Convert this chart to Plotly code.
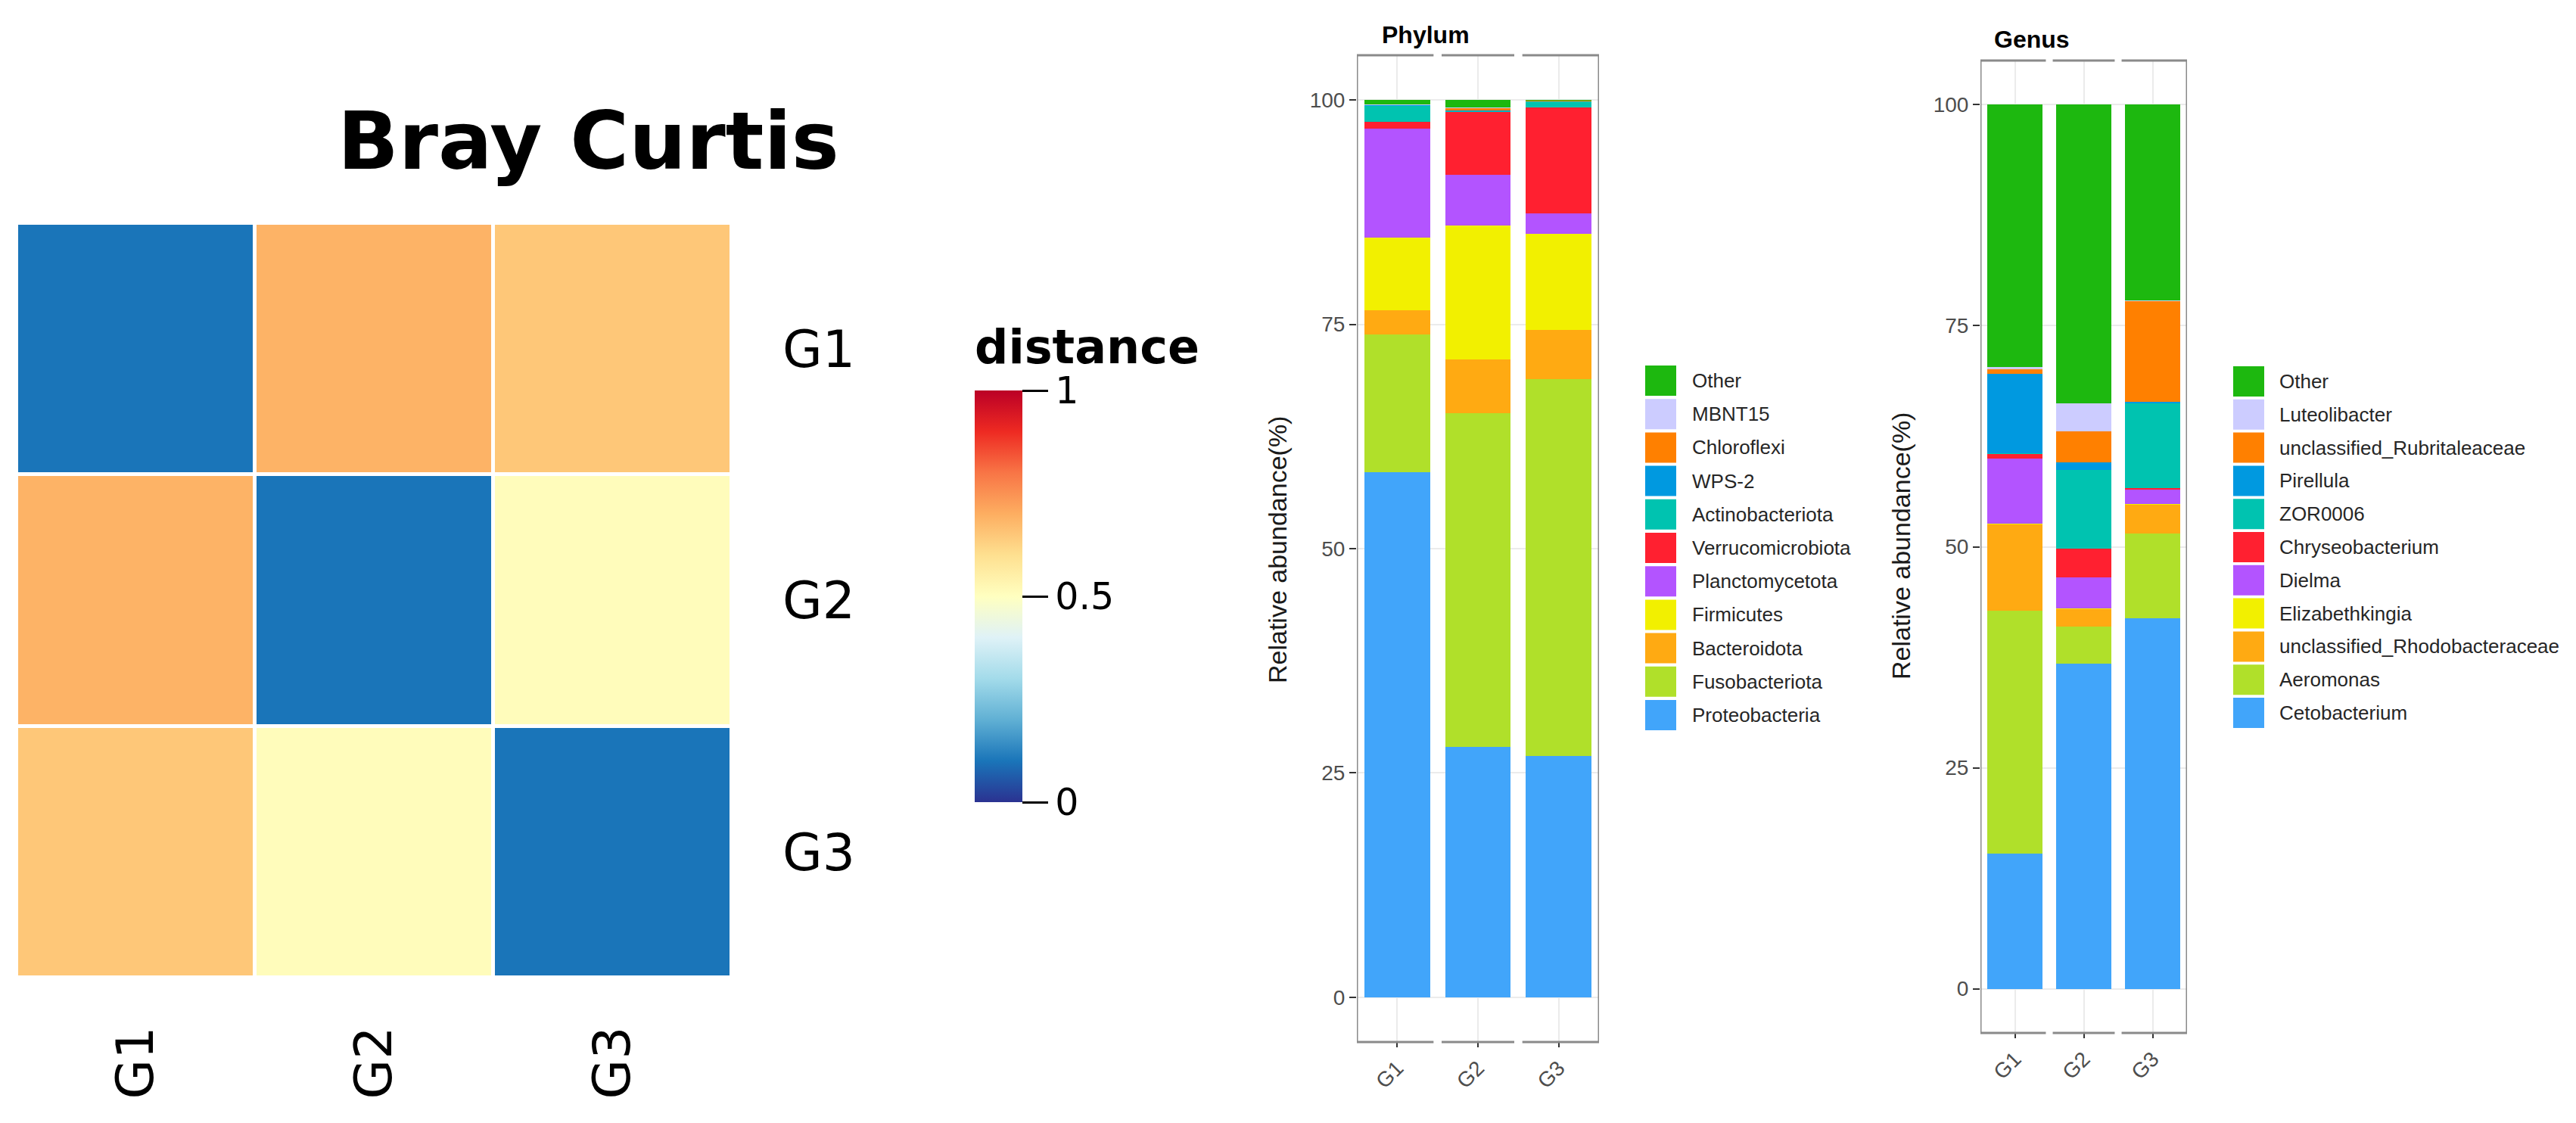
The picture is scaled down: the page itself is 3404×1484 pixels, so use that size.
import plotly.graph_objects as go

# page body adds an 8px margin, so the figure is drawn 8px smaller and shifted
OFF = 8
W, H = 3404 - OFF, 1484 - OFF

# ---- heatmap data (Bray Curtis distance) ----
groups = ["G1", "G2", "G3"]
dist = [
    [0.10, 0.69, 0.65],
    [0.69, 0.10, 0.51],
    [0.65, 0.51, 0.10],
]

# ---- phylum relative abundance (%) , bottom -> top ----
phylum_names = ["Proteobacteria", "Fusobacteriota", "Bacteroidota", "Firmicutes",
                "Planctomycetota", "Verrucomicrobiota", "Actinobacteriota", "WPS-2",
                "Chloroflexi", "MBNT15", "Other"]
phylum_G1 = [58.5, 15.4, 2.7, 8.1, 12.1, 0.8, 1.8, 0.05, 0.05, 0.05, 0.45]
phylum_G2 = [27.9, 37.2, 6.0, 14.9, 5.7, 7.0, 0.1, 0.05, 0.3, 0.05, 0.8]
phylum_G3 = [26.9, 42.0, 5.5, 10.7, 2.3, 11.8, 0.7, 0.02, 0.02, 0.02, 0.04]

# ---- genus relative abundance (%) , bottom -> top ----
genus_names = ["Cetobacterium", "Aeromonas", "unclassified_Rhodobacteraceae", "Elizabethkingia",
               "Dielma", "Chryseobacterium", "ZOR0006", "Pirellula",
               "unclassified_Rubritaleaceae", "Luteolibacter", "Other"]
genus_G1 = [15.3, 27.5, 9.8, 0.05, 7.3, 0.6, 0.05, 9.0, 0.5, 0.2, 29.7]
genus_G2 = [36.8, 4.2, 2.0, 0.05, 3.5, 3.2, 8.9, 0.9, 3.5, 3.2, 33.8]
genus_G3 = [41.9, 9.6, 3.3, 0.02, 1.7, 0.1, 9.6, 0.2, 11.4, 0.05, 22.2]

taxa_colors = ["#41a5fa", "#b0e02a", "#ffaa12", "#f2f000", "#b354ff", "#ff2030",
               "#00c3b0", "#0099e0", "#ff8000", "#ccccff", "#1db80f"]

dist_scale = [
    [0.0, "#2b3291"], [0.1, "#1a75b9"], [0.2, "#60b0d4"], [0.3, "#a3dbea"],
    [0.4, "#dff2f7"], [0.5, "#ffffc0"], [0.6, "#fee090"], [0.7, "#fdae61"],
    [0.8, "#f87546"], [0.9, "#ee2a22"], [1.0, "#bb0026"],
]

def px(v):
    return (v - OFF) / W

def py(v):
    return 1 - (v - OFF) / H

fig = go.Figure()

# heatmap
fig.add_trace(go.Heatmap(
    x=groups, y=groups, z=dist, zmin=0, zmax=1,
    colorscale=dist_scale, xgap=5, ygap=5,
    xaxis="x", yaxis="y",
    colorbar=dict(
        x=px(1288), xanchor="left", xpad=0, ypad=0,
        y=py(788), yanchor="middle", len=544, lenmode="pixels",
        thickness=63, outlinewidth=0,
        tickvals=[0, 0.5, 1], ticktext=["0", "0.5", "1"],
        ticks="outside", ticklen=34, tickwidth=3, tickcolor="black",
        tickfont=dict(family="DejaVu Sans", size=49, color="black"),
    ),
))

# stacked bars
phylum_vals = [phylum_G1, phylum_G2, phylum_G3]
for i, name in enumerate(phylum_names):
    fig.add_trace(go.Bar(
        x=groups, y=[v[i] for v in phylum_vals], name=name,
        marker=dict(color=taxa_colors[i], line=dict(width=0)),
        width=0.81, xaxis="x2", yaxis="y2", showlegend=False,
    ))

genus_vals = [genus_G1, genus_G2, genus_G3]
for i, name in enumerate(genus_names):
    fig.add_trace(go.Bar(
        x=groups, y=[v[i] for v in genus_vals], name=name,
        marker=dict(color=taxa_colors[i], line=dict(width=0)),
        width=0.81, xaxis="x3", yaxis="y3", showlegend=False,
    ))

bar_font = "Liberation Sans, Arial, sans-serif"
tick_font = dict(family=bar_font, size=28, color="#4d4d4d")

def bar_axes(dom_x, dom_y):
    xa = dict(domain=dom_x, range=[-0.5, 2.5], showgrid=True, gridcolor="#ebebeb",
              gridwidth=2, ticks="outside", ticklen=6, tickwidth=2, tickcolor="#333333",
              tickangle=-45, tickfont=tick_font, showline=False, zeroline=False,
              automargin=False, fixedrange=True)
    ya = dict(domain=dom_y, range=[-5, 105], tickvals=[0, 25, 50, 75, 100],
              showgrid=True, gridcolor="#ebebeb", gridwidth=2, ticks="outside",
              ticklen=9, tickwidth=2, tickcolor="#333333", tickfont=tick_font,
              showline=False, zeroline=False, automargin=False, fixedrange=True)
    return xa, ya

xa2, ya2 = bar_axes([px(1793), px(2113)], [py(1377), py(73)])
xa3, ya3 = bar_axes([px(2617), px(2890)], [py(1365), py(80)])
xa2["anchor"] = "y2"
ya2["anchor"] = "x2"
xa3["anchor"] = "y3"
ya3["anchor"] = "x3"

shapes = []
annotations = []

# facet borders: full left/right sides, top and bottom broken between facets
for ax in ["2", "3"]:
    line = dict(color="#8a8a8a", width=3)
    for xv in [-0.5, 2.5]:
        shapes.append(dict(type="line", xref="x" + ax, yref="y" + ax + " domain",
                           x0=xv, x1=xv, y0=0, y1=1, line=line))
    for k in range(3):
        a = k - 0.5 + (0.05 if k > 0 else 0)
        b = k + 0.5 - (0.05 if k < 2 else 0)
        for yv in [0, 1]:
            shapes.append(dict(type="line", xref="x" + ax, yref="y" + ax + " domain",
                               x0=a, x1=b, y0=yv, y1=yv, line=line))

# custom legends with large swatches
def add_legend(names, sw_x0, sw_x1, txt_x, top, pitch):
    for j, name in enumerate(reversed(names)):
        idx = len(names) - 1 - j
        y0 = top + j * pitch
        shapes.append(dict(type="rect", xref="paper", yref="paper",
                           x0=px(sw_x0), x1=px(sw_x1), y0=py(y0), y1=py(y0 + 40),
                           fillcolor=taxa_colors[idx], line=dict(width=0)))
        annotations.append(dict(text=name, xref="paper", yref="paper",
                                x=px(txt_x), y=py(y0 + 20), xanchor="left", yanchor="middle",
                                showarrow=False,
                                font=dict(family=bar_font, size=26, color="#262626")))

add_legend(phylum_names, 2174, 2215, 2234, 483, 44.2)
add_legend(genus_names, 2951, 2992, 3010, 484, 43.8)

# panel titles and axis titles
annotations += [
    dict(text="<b>Bray Curtis</b>", xref="paper", yref="paper", x=px(777), y=py(186),
         xanchor="center", yanchor="middle", showarrow=False,
         font=dict(family="DejaVu Sans", size=106, color="black")),
    dict(text="<b>distance</b>", xref="paper", yref="paper", x=px(1286), y=py(458),
         xanchor="left", yanchor="middle", showarrow=False,
         font=dict(family="DejaVu Sans", size=62, color="black")),
    dict(text="<b>Phylum</b>", xref="paper", yref="paper", x=px(1884), y=py(46),
         xanchor="center", yanchor="middle", showarrow=False,
         font=dict(family=bar_font, size=32, color="black")),
    dict(text="<b>Genus</b>", xref="paper", yref="paper", x=px(2685), y=py(52),
         xanchor="center", yanchor="middle", showarrow=False,
         font=dict(family=bar_font, size=32, color="black")),
    dict(text="Relative abundance(%)", xref="paper", yref="paper", x=px(1688), y=py(727),
         xanchor="center", yanchor="middle", textangle=-90, showarrow=False,
         font=dict(family=bar_font, size=34, color="#1a1a1a")),
    dict(text="Relative abundance(%)", xref="paper", yref="paper", x=px(2512), y=py(722),
         xanchor="center", yanchor="middle", textangle=-90, showarrow=False,
         font=dict(family=bar_font, size=34, color="#1a1a1a")),
]

fig.update_layout(
    width=W, height=H,
    margin=dict(l=0, r=0, t=0, b=0),
    paper_bgcolor="white", plot_bgcolor="white",
    barmode="stack", bargap=0,
    showlegend=False,
    xaxis=dict(domain=[px(22), px(967)], anchor="y", showgrid=False, zeroline=False,
               showline=False, ticks="", tickangle=-90, ticklabelstandoff=50,
               tickfont=dict(family="DejaVu Sans", size=68, color="black"),
               automargin=False, fixedrange=True),
    yaxis=dict(domain=[py(1292), py(295)], anchor="x", side="right", autorange="reversed",
               showgrid=False, zeroline=False, showline=False, ticks="",
               ticklabelstandoff=66,
               tickfont=dict(family="DejaVu Sans", size=68, color="black"),
               automargin=False, fixedrange=True),
    xaxis2=xa2, yaxis2=ya2, xaxis3=xa3, yaxis3=ya3,
    shapes=shapes, annotations=annotations,
)

fig.write_html("out.html")
